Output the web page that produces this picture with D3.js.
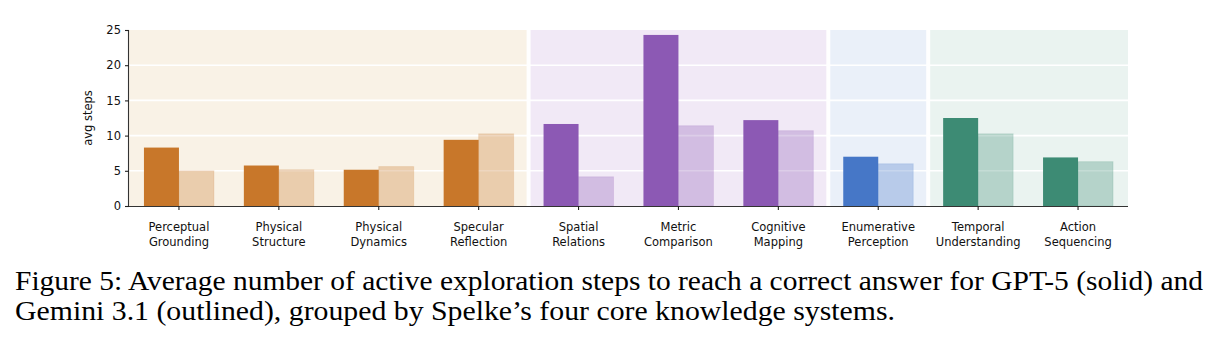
<!DOCTYPE html>
<html>
<head>
<meta charset="utf-8">
<script src="https://cdn.jsdelivr.net/npm/d3@7"></script>
<style>
  body { margin: 0; background: #fff; }
  svg text { font-family: "DejaVu Sans", sans-serif; }
  svg text.caption { font-family: "Liberation Serif", "Times New Roman", Times, serif; font-size: 28px; }
</style>
</head>
<body>
<div id="chart"></div>
<script>
// data
var categories = ["Perceptual\nGrounding", "Physical\nStructure", "Physical\nDynamics", "Specular\nReflection",
  "Spatial\nRelations", "Metric\nComparison", "Cognitive\nMapping",
  "Enumerative\nPerception",
  "Temporal\nUnderstanding", "Action\nSequencing"];
var gpt5 = [8.3, 5.75, 5.15, 9.4, 11.65, 24.3, 12.2, 7.0, 12.5, 6.9];
var gemini = [5.0, 5.15, 5.6, 10.25, 4.15, 11.4, 10.7, 6.0, 10.25, 6.3];
var groupOf = [0, 0, 0, 0, 1, 1, 1, 2, 3, 3];
var groupColors = ["#c8772a", "#8c59b4", "#4677c7", "#3d8b74"];
var groupBg = ["#f9f2e6", "#f1e9f6", "#eaf0f9", "#eaf3f0"];
var yTicks = [0, 5, 10, 15, 20, 25];

var W = 1218, H = 345;
var margin = {top: 30, left: 129, right: 90, bottom: 139};
var width = W - margin.left - margin.right,   // 999
    height = 206 - margin.top;

var svg = d3.select("#chart").append("svg")
  .attr("width", W).attr("height", H);
var g = svg.append("g")
  .attr("transform", "translate(" + margin.left + "," + margin.top + ")");

var x = d3.scaleBand().domain(d3.range(categories.length)).range([0, width]).padding(0);
var y = d3.scaleLinear().domain([0, 25]).range([height, 0]);
var bw = 35;

// group backgrounds
var groups = d3.range(4).map(function(k) {
  var idx = groupOf.map(function(v, i) { return v === k ? i : -1; }).filter(function(i) { return i >= 0; });
  return {k: k, x0: x(idx[0]), x1: x(idx[idx.length - 1]) + x.bandwidth()};
});
g.selectAll("rect.bg").data(groups).enter().append("rect")
  .attr("class", "bg")
  .attr("x", function(d) { return d.x0 + (d.k === 0 ? 0 : 2); })
  .attr("width", function(d) { return d.x1 - d.x0 - (d.k === 0 ? 0 : 2) - (d.k === 3 ? 0 : 2); })
  .attr("y", y(25))
  .attr("height", y(0) - y(25))
  .attr("fill", function(d) { return groupBg[d.k]; });

// gridlines
g.selectAll("line.grid").data(yTicks.slice(1, 5)).enter().append("line")
  .attr("x1", 0).attr("x2", width)
  .attr("y1", function(d) { return y(d); }).attr("y2", function(d) { return y(d); })
  .attr("stroke", "#fff").attr("stroke-width", 1.6);

// bars
g.selectAll("rect.solid").data(gpt5).enter().append("rect")
  .attr("x", function(d, i) { return x(i) + x.bandwidth() / 2 - bw; })
  .attr("width", bw)
  .attr("y", function(d) { return y(d); })
  .attr("height", function(d) { return y(0) - y(d); })
  .attr("fill", function(d, i) { return groupColors[groupOf[i]]; });

g.selectAll("rect.light").data(gemini).enter().append("rect")
  .attr("x", function(d, i) { return x(i) + x.bandwidth() / 2; })
  .attr("width", bw)
  .attr("y", function(d) { return y(d); })
  .attr("height", function(d) { return y(0) - y(d); })
  .attr("fill", function(d, i) { return groupColors[groupOf[i]]; })
  .attr("fill-opacity", 0.3)
  .attr("stroke", function(d, i) { return groupColors[groupOf[i]]; })
  .attr("stroke-opacity", 0.15)
  .attr("stroke-width", 1);

// axes
var yAxis = g.append("g")
  .call(d3.axisLeft(y).tickValues(yTicks).tickSize(4).tickPadding(4));
var xAxis = g.append("g")
  .attr("transform", "translate(0," + height + ")")
  .call(d3.axisBottom(x).tickSize(4).tickFormat(""));
[yAxis, xAxis].forEach(function(a) {
  a.select(".domain").attr("stroke", "#333").attr("stroke-width", 1.1);
  a.selectAll(".tick line").attr("stroke", "#222").attr("stroke-width", 1.1);
});
yAxis.selectAll("text").style("font-size", "11.5px").attr("fill", "#111");
xAxis.select(".domain").attr("d", "M0,0.5H" + width);
yAxis.select(".domain").attr("d", "M-0.5," + height + "V0");

xAxis.selectAll(".tick").each(function(d) {
  var t = d3.select(this).append("text")
    .attr("fill", "#111").attr("text-anchor", "middle")
    .style("font-size", "11.5px");
  categories[d].split("\n").forEach(function(s, j) {
    t.append("tspan").attr("x", 0).attr("y", 25 + j * 15).text(s);
  });
});

g.append("text")
  .attr("transform", "translate(-37," + (height / 2) + ") rotate(-90)")
  .attr("text-anchor", "middle")
  .style("font-size", "11.5px").attr("fill", "#111")
  .text("avg steps");

// caption
svg.append("text").attr("class", "caption").attr("x", 15).attr("y", 290)
  .attr("textLength", 1188).attr("lengthAdjust", "spacingAndGlyphs")
  .text("Figure 5: Average number of active exploration steps to reach a correct answer for GPT-5 (solid) and");
svg.append("text").attr("class", "caption").attr("x", 15).attr("y", 320)
  .attr("textLength", 880).attr("lengthAdjust", "spacingAndGlyphs")
  .text("Gemini 3.1 (outlined), grouped by Spelke\u2019s four core knowledge systems.");
</script>
</body>
</html>
